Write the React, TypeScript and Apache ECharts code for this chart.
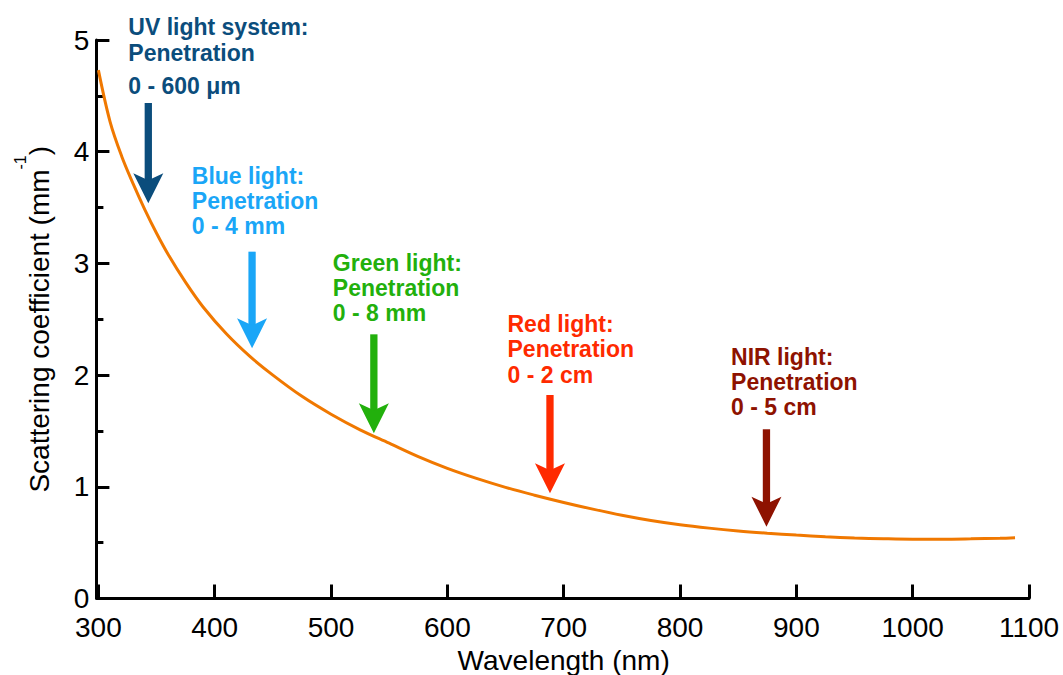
import React, { useEffect, useRef } from 'react';
import * as echarts from 'echarts';

// Curve: wavelength (nm) vs scattering coefficient (mm^-1)
const wavelengths = [300, 310, 320, 330, 340, 350, 360, 375, 390, 410, 430, 450, 475, 500, 525, 550, 575, 600, 625, 650, 675, 700, 725, 750, 775, 800, 825, 850, 875, 900, 925, 950, 975, 1000, 1025, 1050, 1075, 1088];
const scattering = [4.73, 4.27, 3.96, 3.71, 3.48, 3.27, 3.08, 2.83, 2.61, 2.37, 2.17, 2.0, 1.81, 1.65, 1.51, 1.39, 1.27, 1.165, 1.075, 0.995, 0.925, 0.86, 0.8, 0.745, 0.698, 0.66, 0.63, 0.605, 0.585, 0.568, 0.553, 0.542, 0.535, 0.531, 0.531, 0.534, 0.539, 0.543];

// Annotations
const annLines = [
  ['UV light system:', 'Penetration', '0 - 600 μm'],
  ['Blue light:', 'Penetration', '0 - 4 mm'],
  ['Green light:', 'Penetration', '0 - 8 mm'],
  ['Red light:', 'Penetration', '0 - 2 cm'],
  ['NIR light:', 'Penetration', '0 - 5 cm'],
];
const annColors = ['#0b4d7c', '#1aa6f7', '#22b00c', '#ff2a00', '#8e1200'];
const annTextX = [325.7, 380.3, 501.5, 651.7, 843.9];
const annTextY = [5.112, 3.784, 3.008, 2.457, 2.165];
const arrowX = [342.9, 432.1, 536.8, 688.2, 874.3];
const arrowTop = [4.436, 3.105, 2.365, 1.822, 1.515];
const arrowTip = [3.538, 2.24, 1.479, 0.942, 0.643];

const FONT = '"Liberation Sans", Arial, Helvetica, sans-serif';

export default function App() {
  const ref = useRef<HTMLDivElement>(null);
  useEffect(() => {
    if (!ref.current) return;
    const chart = echarts.init(ref.current, null, { renderer: 'svg' });
    const option: any = {
      animation: false,
      backgroundColor: '#ffffff',
      grid: { left: 98.4, right: 34, top: 40, bottom: 76.5, containLabel: false, outerBoundsMode: 'none' },
      xAxis: {
        type: 'value',
        min: 300,
        max: 1100,
        interval: 100,
        offset: 3,
        axisLine: { show: true, lineStyle: { color: '#000', width: 3 } },
        axisTick: { show: true, inside: true, length: 14, lineStyle: { color: '#000', width: 3 } },
        axisLabel: { fontSize: 28, lineHeight: 24, color: '#000', fontFamily: FONT, margin: 14, formatter: (v: number) => String(v) },
        splitLine: { show: false },
        name: 'Wavelength (nm)',
        nameLocation: 'middle',
        nameGap: 42,
        nameTextStyle: { fontSize: 28, color: '#000', fontFamily: FONT },
      },
      yAxis: {
        type: 'value',
        min: 0,
        max: 5,
        interval: 1,
        offset: 2,
        axisLine: { show: true, lineStyle: { color: '#000', width: 3 } },
        axisTick: { show: true, inside: true, length: 13, lineStyle: { color: '#000', width: 3 } },
        minorTick: { show: true, splitNumber: 2, length: 7, lineStyle: { color: '#000', width: 3 } },
        axisLabel: { fontSize: 28, lineHeight: 24, color: '#000', fontFamily: FONT, margin: 7 },
        splitLine: { show: false },
        name: '{a|Scattering coefficient (mm}{s|-1}{a|)}',
        nameLocation: 'middle',
        nameGap: 30,
        nameTextStyle: {
          color: '#000',
          fontFamily: FONT,
          fontSize: 28,
          rich: {
            a: { fontSize: 28, fontFamily: FONT, color: '#000', lineHeight: 54 },
            s: { fontSize: 16, fontFamily: FONT, color: '#000', lineHeight: 14, verticalAlign: 'top' },
          },
        },
      },
      series: [
        {
          type: 'line',
          data: wavelengths.map((w, i) => [w, scattering[i]]),
          smooth: 0.35,
          showSymbol: false,
          clip: false,
          lineStyle: { color: '#f07800', width: 3 },
          itemStyle: { color: '#f07800' },
        },
      ],
    };
    chart.setOption(option);

    const toPx = (x: number, y: number) => chart.convertToPixel({ gridIndex: 0 }, [x, y]) as number[];
    const graphics: any[] = [];
    const headLen = 30;
    const headHalf = 15;
    const notch = 7;
    const shaftW = 7.3;
    annLines.forEach((lines, i) => {
      const color = annColors[i];
      const [tx, ty] = toPx(annTextX[i], annTextY[i]);
      lines.forEach((line, j) => {
        let dy = j * 25.3;
        if (i === 0 && j === 2) dy = 25 + 34;
        graphics.push({
          type: 'text',
          x: tx,
          y: ty + dy,
          style: {
            text: line,
            fill: color,
            fontSize: 23,
            fontWeight: 'bold',
            fontFamily: FONT,
            align: 'left',
            verticalAlign: 'middle',
          },
        });
      });
      const [ax, aTop] = toPx(arrowX[i], arrowTop[i]);
      const [, aTip] = toPx(arrowX[i], arrowTip[i]);
      graphics.push({
        type: 'rect',
        shape: { x: ax - shaftW / 2, y: aTop, width: shaftW, height: aTip - headLen + notch - aTop + 1 },
        style: { fill: color },
      });
      graphics.push({
        type: 'polygon',
        shape: {
          points: [
            [ax - headHalf, aTip - headLen],
            [ax, aTip - headLen + notch],
            [ax + headHalf, aTip - headLen],
            [ax, aTip],
          ],
        },
        style: { fill: color },
      });
    });
    chart.setOption({ graphic: graphics });

    return () => chart.dispose();
  }, []);
  return (
    <div
      ref={ref}
      style={{ position: 'fixed', left: 0, top: 0, width: 1063, height: 675, background: '#fff' }}
    />
  );
}
